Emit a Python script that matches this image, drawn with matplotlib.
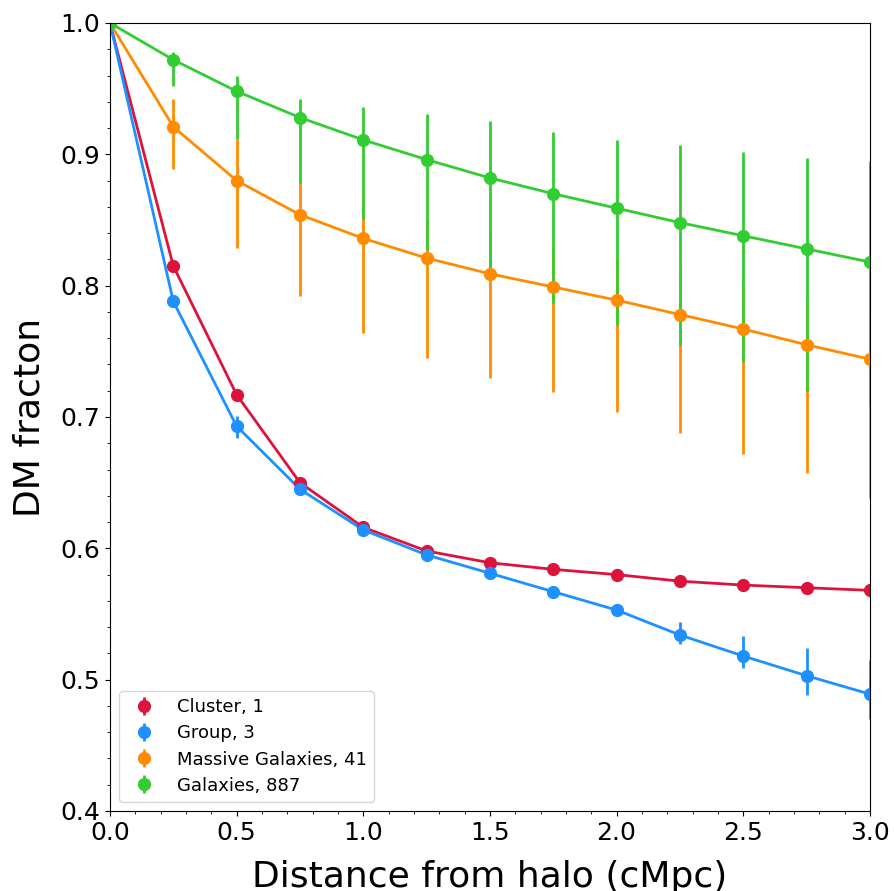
import numpy as np
import matplotlib.pyplot as plt
from matplotlib.ticker import MultipleLocator

# distance bins (cMpc)
dist = [0.0, 0.25, 0.5, 0.75, 1.0, 1.25, 1.5, 1.75, 2.0, 2.25, 2.5, 2.75, 3.0]

cluster = [1.0, 0.815, 0.717, 0.650, 0.616, 0.598, 0.589, 0.584, 0.580, 0.575, 0.572, 0.570, 0.568]
cluster_lo = [1.0, 0.813, 0.715, 0.648, 0.614, 0.596, 0.587, 0.582, 0.578, 0.573, 0.570, 0.568, 0.566]
cluster_hi = [1.0, 0.817, 0.719, 0.652, 0.618, 0.600, 0.591, 0.586, 0.582, 0.577, 0.574, 0.572, 0.570]

group = [1.0, 0.788, 0.693, 0.645, 0.614, 0.595, 0.581, 0.567, 0.553, 0.534, 0.518, 0.503, 0.489]
group_lo = [1.0, 0.786, 0.684, 0.642, 0.611, 0.592, 0.578, 0.564, 0.549, 0.527, 0.509, 0.488, 0.470]
group_hi = [1.0, 0.790, 0.701, 0.648, 0.617, 0.598, 0.584, 0.570, 0.557, 0.544, 0.533, 0.524, 0.515]

massive = [1.0, 0.921, 0.880, 0.854, 0.836, 0.821, 0.809, 0.799, 0.789, 0.778, 0.767, 0.755, 0.744]
massive_lo = [1.0, 0.889, 0.829, 0.792, 0.764, 0.745, 0.730, 0.719, 0.704, 0.688, 0.672, 0.657, 0.638]
massive_hi = [1.0, 0.942, 0.912, 0.880, 0.865, 0.850, 0.840, 0.830, 0.820, 0.812, 0.800, 0.790, 0.780]

galaxies = [1.0, 0.972, 0.948, 0.928, 0.911, 0.896, 0.882, 0.870, 0.859, 0.848, 0.838, 0.828, 0.818]
galaxies_lo = [1.0, 0.952, 0.912, 0.878, 0.851, 0.827, 0.812, 0.787, 0.770, 0.755, 0.742, 0.720, 0.710]
galaxies_hi = [1.0, 0.978, 0.960, 0.942, 0.936, 0.931, 0.925, 0.917, 0.911, 0.907, 0.902, 0.897, 0.895]

series = [
    ('Cluster, 1', cluster, cluster_lo, cluster_hi, 'crimson'),
    ('Group, 3', group, group_lo, group_hi, 'dodgerblue'),
    ('Massive Galaxies, 41', massive, massive_lo, massive_hi, 'darkorange'),
    ('Galaxies, 887', galaxies, galaxies_lo, galaxies_hi, 'limegreen'),
]

fig = plt.figure(figsize=(8.94, 8.91), dpi=100)
ax = fig.add_axes([0.123, 0.0898, 0.850, 0.8844])

for label, y, lo, hi, color in series:
    y = np.array(y)
    yerr = [y - np.array(lo), np.array(hi) - y]
    # connecting line drawn separately so the legend shows only marker + bar
    ax.plot(dist, y, '-', color=color, lw=2)
    ax.errorbar(dist, y, yerr=yerr, fmt='o', color=color, label=label,
                elinewidth=2, markersize=8.5)

ax.set_xlim(0, 3)
ax.set_ylim(0.4, 1.0)
ax.xaxis.set_major_locator(MultipleLocator(0.5))
ax.xaxis.set_minor_locator(MultipleLocator(0.1))
ax.yaxis.set_major_locator(MultipleLocator(0.1))
ax.yaxis.set_minor_locator(MultipleLocator(0.02))
ax.tick_params(labelsize=18)

ax.set_xlabel('Distance from halo (cMpc)', fontsize=26, labelpad=11)
ax.set_ylabel('DM fracton', fontsize=26, labelpad=10)

ax.legend(loc='lower left', fontsize=13, labelspacing=0.45)

fig.savefig('out.png', dpi=100)
